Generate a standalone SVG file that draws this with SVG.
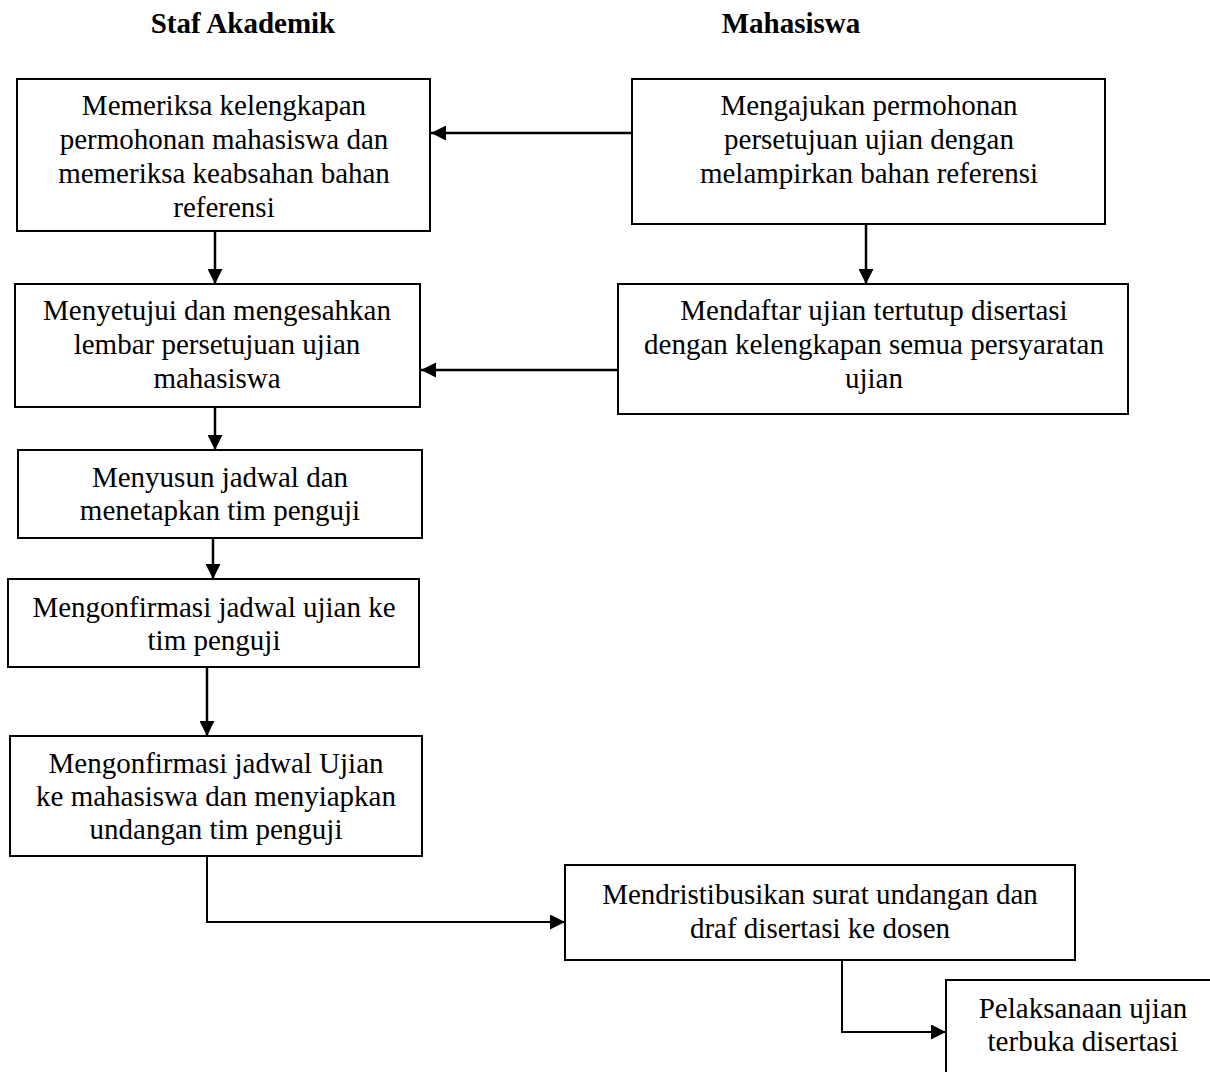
<svg xmlns="http://www.w3.org/2000/svg" width="1210" height="1072" viewBox="0 0 1210 1072">
<style>
.box{fill:#fff;stroke:#000;stroke-width:2}
.t{font-family:"Liberation Serif","Times New Roman",serif;font-size:29px;fill:#000;text-anchor:middle}
.h{font-family:"Liberation Serif","Times New Roman",serif;font-size:29px;font-weight:bold;fill:#000;text-anchor:middle}
.c{fill:none;stroke:#000;stroke-width:2.5}
.e{fill:none;stroke:#000;stroke-width:2}
</style>
<defs>
<marker id="ah" markerUnits="userSpaceOnUse" markerWidth="15" markerHeight="15" refX="15" refY="7.5" orient="auto">
<path d="M0,0 L15,7.5 L0,15 z" fill="#000"/>
</marker>
</defs>
<rect width="1210" height="1072" fill="#fff"/>
<g id="headers">
<text class="h" x="243" y="33">Staf Akademik</text>
<text class="h" x="791" y="33">Mahasiswa</text>
</g>
<g id="connectors">
<line class="c" x1="632" y1="133" x2="431" y2="133" marker-end="url(#ah)"/>
<line class="c" x1="215" y1="231" x2="215" y2="284" marker-end="url(#ah)"/>
<line class="c" x1="866" y1="224" x2="866" y2="284" marker-end="url(#ah)"/>
<line class="c" x1="618" y1="370" x2="421" y2="370" marker-end="url(#ah)"/>
<line class="c" x1="215" y1="407" x2="215" y2="450" marker-end="url(#ah)"/>
<line class="c" x1="213" y1="538" x2="213" y2="579" marker-end="url(#ah)"/>
<line class="c" x1="207" y1="667" x2="207" y2="736" marker-end="url(#ah)"/>
<path class="e" d="M207,856 V922 H565" marker-end="url(#ah)"/>
<path class="e" d="M842,960 V1032 H946" marker-end="url(#ah)"/>
</g>
<g id="n1">
<rect class="box" x="17" y="79" width="413" height="152"/>
<text class="t" x="224" y="115">Memeriksa kelengkapan</text>
<text class="t" x="224" y="149">permohonan mahasiswa dan</text>
<text class="t" x="224" y="183">memeriksa keabsahan bahan</text>
<text class="t" x="224" y="217">referensi</text>
</g>
<g id="n2">
<rect class="box" x="632" y="79" width="473" height="145"/>
<text class="t" x="869" y="115">Mengajukan permohonan</text>
<text class="t" x="869" y="149">persetujuan ujian dengan</text>
<text class="t" x="869" y="183">melampirkan bahan referensi</text>
</g>
<g id="n3">
<rect class="box" x="15" y="284" width="405" height="123"/>
<text class="t" x="217" y="320">Menyetujui dan mengesahkan</text>
<text class="t" x="217" y="354">lembar persetujuan ujian</text>
<text class="t" x="217" y="388">mahasiswa</text>
</g>
<g id="n4">
<rect class="box" x="618" y="284" width="510" height="130"/>
<text class="t" x="874" y="320">Mendaftar ujian tertutup disertasi</text>
<text class="t" x="874" y="354">dengan kelengkapan semua persyaratan</text>
<text class="t" x="874" y="388">ujian</text>
</g>
<g id="n5">
<rect class="box" x="18" y="450" width="404" height="88"/>
<text class="t" x="220" y="487">Menyusun jadwal dan</text>
<text class="t" x="220" y="520">menetapkan tim penguji</text>
</g>
<g id="n6">
<rect class="box" x="8" y="579" width="411" height="88"/>
<text class="t" x="214" y="617">Mengonfirmasi jadwal ujian ke</text>
<text class="t" x="214" y="650">tim penguji</text>
</g>
<g id="n7">
<rect class="box" x="10" y="736" width="412" height="120"/>
<text class="t" x="216" y="773">Mengonfirmasi jadwal Ujian</text>
<text class="t" x="216" y="806">ke mahasiswa dan menyiapkan</text>
<text class="t" x="216" y="839">undangan tim penguji</text>
</g>
<g id="n8">
<rect class="box" x="565" y="865" width="510" height="95"/>
<text class="t" x="820" y="904">Mendristibusikan surat undangan dan</text>
<text class="t" x="820" y="938">draf disertasi ke dosen</text>
</g>
<g id="n9">
<rect class="box" x="946" y="980" width="280" height="110"/>
<text class="t" x="1083" y="1018">Pelaksanaan ujian</text>
<text class="t" x="1083" y="1051">terbuka disertasi</text>
</g>
</svg>
